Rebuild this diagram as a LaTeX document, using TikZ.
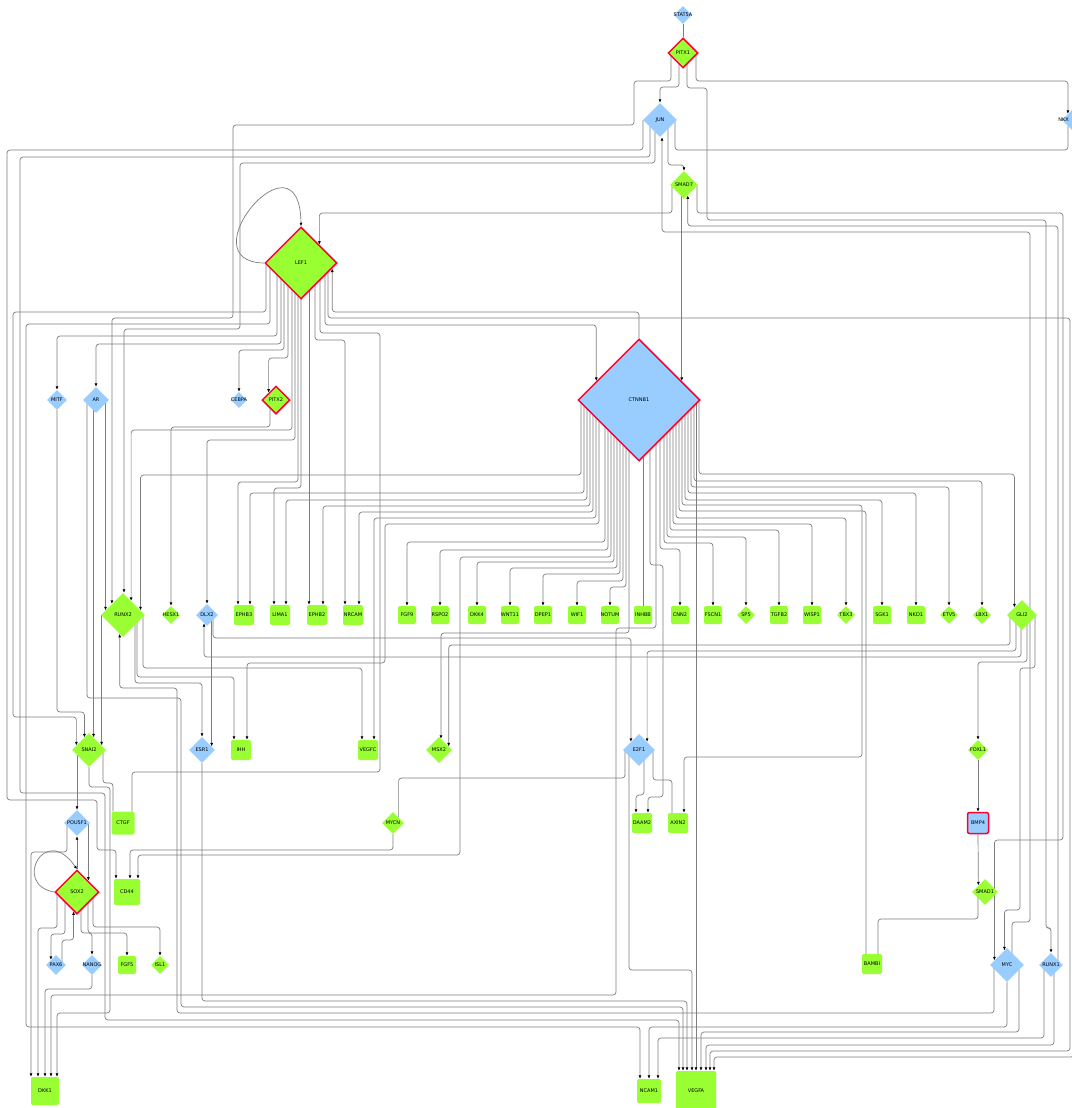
\documentclass[tikz,border=0pt]{standalone}
\usepackage{fontspec}
\newfontfamily\labfont{DejaVu Sans}
\usetikzlibrary{arrows.meta,positioning,calc,shapes.geometric}
\definecolor{gfill}{RGB}{153,255,51}
\definecolor{bfill}{RGB}{153,204,255}
\definecolor{hub}{RGB}{255,0,51}
\definecolor{wire}{RGB}{125,125,125}
\pgfdeclarelayer{bg}
\pgfsetlayers{bg,main}

\begin{document}
\begin{tikzpicture}[x=1pt,y=-1pt,
    lab/.style={font=\labfont\fontsize{5}{5}\selectfont,inner sep=0pt},
    gd/.style={diamond,fill=gfill,inner sep=0pt,minimum size=#1},
    bd/.style={diamond,fill=bfill,inner sep=0pt,minimum size=#1},
    gb/.style={rectangle,rounded corners=2pt,fill=gfill,inner sep=0pt,minimum size=#1},
    hubline/.style={draw=hub,line width=1.5pt},
    arr/.style={draw=wire,line width=0.7pt,rounded corners=3pt,-{Latex[length=3.5pt,width=3pt,color=black]}},
    ln/.style={draw=wire,line width=0.7pt,rounded corners=3pt}]
\useasboundingbox (0,0) rectangle (1071,1108);

% hubs and upper nodes
\node[bd=18,label={[lab]center:STAT5A}] (STAT5A) at (683,15) {};
\node[gd=30,hubline,label={[lab]center:PITX1}] (PITX1) at (683,53) {};
\node[bd=34,label={[lab]center:JUN}] (JUN) at (660,120) {};
\node[bd=24] (NKX) at (1074,120) {};
\node[lab,anchor=east] (NKXlab) at (1069,120) {NKX};
\node[gd=28,label={[lab]center:SMAD7}] (SMAD7) at (684,185) {};
\node[gd=72,hubline,label={[lab]center:LEF1}] (LEF1) at (301,263) {};
\node[bd=122,hubline,label={[lab]center:CTNNB1}] (CTNNB1) at (639,400) {};
\node[bd=20,label={[lab]center:MITF}] (MITF) at (57,400) {};
\node[bd=26,label={[lab]center:AR}] (AR) at (96,400) {};
\node[bd=16,label={[lab]center:CEBPA}] (CEBPA) at (239,400) {};
\node[gd=28,hubline,label={[lab]center:PITX2}] (PITX2) at (276,400) {};

% target row
\node[gd=44,label={[lab]center:RUNX2}] (RUNX2) at (123,615) {};
\node[bd=22,label={[lab]center:DLX2}] (DLX2) at (207,615) {};
\node[gd=30,label={[lab]center:GLI2}] (GLI2) at (1022,615) {};
\foreach \g/\x in {EPHB3/244,LIMA1/280,EPHB2/317,NRCAM/353}
    \node[gb=20,label={[lab]center:\g}] (\g) at (\x,615) {};
\foreach \g/\x in {FGF9/407,RSPO2/440,DKK4/477,WNT11/510,DPEP1/543,WIF1/577,NOTUM/610,INHBB/643,CNN2/680,FSCN1/713,TGFB2/779,WISP1/812,SGK1/882,NKD1/916}
    \node[gb=18,label={[lab]center:\g}] (\g) at (\x,615) {};
\foreach \g/\x in {HESX1/171,SP5/746,TBX3/846,ETV5/949,LBX1/982}
    \node[gd=18,label={[lab]center:\g}] (\g) at (\x,615) {};

% lower nodes
\node[gd=34,label={[lab]center:SNAI2}] (SNAI2) at (89,750) {};
\node[bd=26,label={[lab]center:ESR1}] (ESR1) at (202,750) {};
\node[gb=20,label={[lab]center:IHH}] (IHH) at (241,750) {};
\node[gb=20,label={[lab]center:VEGFC}] (VEGFC) at (368,750) {};
\node[gd=26,label={[lab]center:MSX2}] (MSX2) at (439,750) {};
\node[bd=32,label={[lab]center:E2F1}] (E2F1) at (639,750) {};
\node[gd=20,label={[lab]center:FOXL1}] (FOXL1) at (978,750) {};
\node[bd=26,label={[lab]center:POU5F1}] (POU5F1) at (77,823) {};
\node[gb=23,label={[lab]center:CTGF}] (CTGF) at (123,823) {};
\node[gd=22,label={[lab]center:MYCN}] (MYCN) at (393,823) {};
\node[gb=20,label={[lab]center:DAAM2}] (DAAM2) at (642,823) {};
\node[gb=20,label={[lab]center:AXIN2}] (AXIN2) at (678,823) {};
\node[rectangle,rounded corners=2pt,fill=bfill,hubline,inner sep=0pt,minimum size=21,label={[lab]center:BMP4}] (BMP4) at (978,823) {};
\node[gd=44,hubline,label={[lab]center:SOX2}] (SOX2) at (77,892) {};
\node[gb=26,label={[lab]center:CD44}] (CD44) at (127,892) {};
\node[gd=26,label={[lab]center:SMAD1}] (SMAD1) at (985,892) {};
\node[bd=20,label={[lab]center:PAX6}] (PAX6) at (56,965) {};
\node[bd=20,label={[lab]center:NANOG}] (NANOG) at (92,965) {};
\node[gb=18,label={[lab]center:FGF5}] (FGF5) at (127,965) {};
\node[gd=18,label={[lab]center:ISL1}] (ISL1) at (160,965) {};
\node[gb=20,label={[lab]center:BAMBI}] (BAMBI) at (872,964) {};
\node[bd=34,label={[lab]center:MYC}] (MYC) at (1007,965) {};
\node[bd=24,label={[lab]center:RUNX1}] (RUNX1) at (1051,965) {};
\node[gb=28,label={[lab]center:DKK1}] (DKK1) at (45,1091) {};
\node[gb=24,label={[lab]center:NCAM1}] (NCAM1) at (649,1091) {};
\node[gb=40,label={[lab]center:VEGFA}] (VEGFA) at (696,1091) {};

\begin{pgfonlayer}{bg}
\fill[white] (0,0) rectangle (1071,1108);

% PITX1 and JUN
\draw[ln] (STAT5A) -- (PITX1);
\draw[arr] ([xshift=-4]PITX1.center) |- (JUN.north |- 0,87) -- (JUN.north);
\draw[arr] ([xshift=-12]PITX1.center) |- (634,81) |- (233,125) |- (RUNX2.north west |- 0,318) -- (RUNX2.north west);
\draw[arr] ([xshift=4]PITX1.center) |- (707,88) |- (1046,220) |- (RUNX1.north |- 0,928) -- (RUNX1.north);
\draw[arr] ([xshift=13]PITX1.center) |- (NKX.north west |- 0,81) -- (NKX.north west);
\draw[arr] ([xshift=8]JUN.center) |- (SMAD7.north |- 0,165) -- (SMAD7.north);
\draw[ln] ([xshift=15]JUN.center) |- (NKX.south west |- 0,150) -- (NKX.south west);
\draw[arr] ([xshift=-17]JUN.center) |- (7,150) |- (97,800) |- ([xshift=-11]CD44.north |- 0,850) -- ([xshift=-11]CD44.north);
\draw[arr] ([xshift=-10]JUN.center) |- (20,157) |- (105,793) |- ([xshift=-17]VEGFA.north |- 0,1020) -- ([xshift=-17]VEGFA.north);
\draw[arr] ([xshift=-5]JUN.center) |- (240,163) |- ([xshift=1]RUNX2.north |- 0,329) -- ([xshift=1]RUNX2.north);
\draw[arr] ([xshift=5]MYC.center) |- (1030,922) |- ([xshift=2]JUN.south |- 0,232) -- ([xshift=2]JUN.south);

% SMAD7
\draw[arr] ([xshift=-12]SMAD7.center) |- (LEF1.north east |- 0,213) -- (LEF1.north east);
\draw[arr] (SMAD7.center -| CTNNB1.24) -- (CTNNB1.24);
\draw[arr] ([xshift=13]SMAD7.center) |- (1063,213) |- (MYC.160 |- 0,840) -- (MYC.160);
\draw[arr] ([xshift=7]RUNX1.center) |- (SMAD7.-70 |- 0,226) -- (SMAD7.-70);

% LEF1
\draw[arr] (LEF1.west) .. controls (185,262) and (300,125) .. (LEF1.north);
\draw[arr] ([xshift=-35]LEF1.center) |- (13,312) |- (SNAI2.160 |- 0,717) -- (SNAI2.160);
\draw[arr] ([xshift=-31]LEF1.center) |- (26,324) |- ([xshift=-9]NCAM1.north |- 0,1027) -- ([xshift=-9]NCAM1.north);
\foreach \dx/\lv/\t in {-24/336/MITF.north,-20/344/AR.north,-17/350/CEBPA.north,-13/358/PITX2.north west,-9/430/RUNX2.60,-6/440/DLX2.north}
    \draw[arr] ([xshift=\dx]LEF1.center) |- (\t |- 0,\lv) -- (\t);
\draw[arr] ([xshift=-3]LEF1.center) |- ([xshift=-6]EPHB3.north |- 0,482) -- ([xshift=-6]EPHB3.north);
\draw[arr] (LEF1.center) |- ([xshift=-6]LIMA1.north |- 0,488) -- ([xshift=-6]LIMA1.north);
\draw[arr] ([xshift=-8]EPHB2.north |- LEF1.center) -- ([xshift=-8]EPHB2.north);
\draw[arr] ([xshift=14]LEF1.center) |- ([xshift=-8]NRCAM.north |- 0,340) -- ([xshift=-8]NRCAM.north);
\draw[ln] ([xshift=19]LEF1.center) |- (380,333) |- ([xshift=9]CTGF.north |- 0,772) -- ([xshift=9]CTGF.north);
\draw[arr] ([xshift=24]LEF1.center) |- (CTNNB1.156 |- 0,325) -- (CTNNB1.156);
\draw[arr] ([xshift=27]LEF1.center) |- (1070,318) |- ([xshift=14]VEGFA.north |- 0,1051) -- ([xshift=14]VEGFA.north);
\draw[arr] (CTNNB1.north) |- (LEF1.-10 |- 0,312) -- (LEF1.-10);
\draw[arr] ([xshift=-6]PITX2.center) |- (HESX1.north |- 0,427) -- (HESX1.north);

% CTNNB1 fan
\foreach \dx/\lv/\t/\o in {-58/475/RUNX2.15/0,-55/493/EPHB3.north/6,-52/500/LIMA1.north/6,-49/506/EPHB2.north/6,-46/512/NRCAM.north/6,-43/518/VEGFC.north/6,-34/542/FGF9.north/0,-31/550/RSPO2.north/0,-25/562/DKK4.north/0,-22/568/WNT11.north/0,-19/574/DPEP1.north/0,-16/581/WIF1.north/0,-13/587/NOTUM.north/0,-10/633/MSX2.80/0,21/549/CNN2.north/0,25/543/FSCN1.north/0,28/537/SP5.north/0,31/530/TGFB2.north/0,34/524/WISP1.north/0,37/518/TBX3.north/0,46/500/SGK1.north/0,49/493/NKD1.north/0,52/487/ETV5.north/0,55/481/LBX1.north/0,60/474/GLI2.north west/0}
    \draw[arr] ([xshift=\dx]CTNNB1.center) |- ([xshift=\o]\t |- 0,\lv) -- ([xshift=\o]\t);
\draw[arr] ([xshift=-40]CTNNB1.center) |- (385,524) |- ([xshift=6]IHH.north |- 0,663) -- ([xshift=6]IHH.north);
\draw[arr] ([xshift=-28]CTNNB1.center) |- (460,557) |- ([xshift=11]CD44.north |- 0,855) -- ([xshift=11]CD44.north);
\draw[arr] ([xshift=17]CTNNB1.center) |- (616,628) |- ([xshift=6]DKK1.north |- 0,995) -- ([xshift=6]DKK1.north);
\draw[ln] (INHBB.north) -- (INHBB.north |- CTNNB1.center);
\draw[arr] ([xshift=11]CTNNB1.center) |- (663,565) |- ([xshift=6]DAAM2.north |- 0,797) -- ([xshift=6]DAAM2.north);
\draw[ln] ([xshift=40]CTNNB1.center) |- ([xshift=-6]BAMBI.north |- 0,511) -- ([xshift=-6]BAMBI.north);
\draw[arr] ([xshift=43]CTNNB1.center) |- (862,505) |- ([xshift=6]AXIN2.north |- 0,757) -- ([xshift=6]AXIN2.north);
\draw[arr] ([xshift=57]CTNNB1.center) -- (VEGFA.north);

% GLI2 and DLX2
\draw[arr] ([xshift=-12]GLI2.center) |- (MSX2.20 |- 0,645) -- (MSX2.20);
\draw[arr] ([xshift=-6]GLI2.center) |- (E2F1.north east |- 0,651) -- (E2F1.north east);
\draw[arr] ([xshift=-1]GLI2.center) |- (DLX2.-110 |- 0,657) -- (DLX2.-110);
\draw[arr] ([xshift=5]GLI2.center) |- (FOXL1.north |- 0,662) -- (FOXL1.north);
\draw[arr] ([xshift=13]GLI2.center) |- (1020,668) |- (MYC.100 |- 0,910) -- (MYC.100);
\draw[arr] ([xshift=6]DLX2.center) |- (E2F1.north west |- 0,638) -- (E2F1.north west);
\draw[arr] (DLX2.center -| ESR1.20) -- (ESR1.20);

% RUNX2, AR, MITF
\draw[arr] (RUNX2.center -| SNAI2.20) -- (SNAI2.20);
\draw[arr] ([xshift=12]RUNX2.center) |- (ESR1.north |- 0,683) -- (ESR1.north);
\draw[arr] ([xshift=14]RUNX2.center) |- ([xshift=-7]IHH.north |- 0,677) -- ([xshift=-7]IHH.north);
\draw[arr] ([xshift=20]RUNX2.center) |- ([xshift=-6]VEGFC.north |- 0,668) -- ([xshift=-6]VEGFC.north);
\draw[arr] ([xshift=-13]MYC.center) |- (177,1013) |- (RUNX2.-100 |- 0,688) -- (RUNX2.-100);
\draw[arr] (AR.center -| RUNX2.165) -- (RUNX2.165);
\draw[arr] (AR.center -| SNAI2.70) -- (SNAI2.70);
\draw[arr] ([xshift=-9]AR.center) |- (181,698) |- ([xshift=-13]VEGFA.north |- 0,1007) -- ([xshift=-13]VEGFA.north);
\draw[arr] (MITF.south) |- (SNAI2.110 |- 0,712) -- (SNAI2.110);

% SNAI2, POU5F1, SOX2
\draw[arr] (SNAI2.center -| POU5F1.north) -- (POU5F1.north);
\draw[ln] ([xshift=14]SNAI2.center) |- ([xshift=-10]CTGF.north |- 0,783) -- ([xshift=-10]CTGF.north);
\draw[arr] (SNAI2.south) |- (110,787) |- ([xshift=12]DKK1.north |- 0,1013) -- ([xshift=12]DKK1.north);
\draw[arr] (SOX2.north) -- (POU5F1.south);
\draw[arr] (SOX2.west) .. controls (12,885) and (45,822) .. (SOX2.north);
\draw[arr] (POU5F1.center -| SOX2.north east) -- (SOX2.north east);
\draw[arr] ([xshift=-10]POU5F1.center) |- ([xshift=-14]DKK1.north |- 0,852) -- ([xshift=-14]DKK1.north);
\draw[arr] ([xshift=-20]SOX2.center) |- ([xshift=-7]DKK1.north |- 0,928) -- ([xshift=-7]DKK1.north);
\draw[arr] ([xshift=-12]SOX2.center) |- (PAX6.north west |- 0,934) -- (PAX6.north west);
\draw[arr] ([xshift=6]PAX6.center) |- (SOX2.-100 |- 0,940) -- (SOX2.-100);
\draw[arr] ([xshift=4]SOX2.center) |- (NANOG.north |- 0,933) -- (NANOG.north);
\draw[arr] ([xshift=11]SOX2.center) |- (FGF5.north |- 0,933) -- (FGF5.north);
\draw[arr] ([xshift=16]SOX2.center) |- (ISL1.north |- 0,927) -- (ISL1.north);
\draw[arr] (NANOG.south) |- (DKK1.north |- 0,989) -- (DKK1.north);

% MYCN, E2F1, ESR1
\draw[arr] (MYCN.south) |- ([xshift=3]CD44.north |- 0,850) -- ([xshift=3]CD44.north);
\draw[ln] ([xshift=-14]E2F1.center) |- (MYCN.north east |- 0,778) -- (MYCN.north east);
\draw[arr] ([xshift=5]E2F1.center) |- ([xshift=-6]DAAM2.north |- 0,795) -- ([xshift=-6]DAAM2.north);
\draw[ln] ([xshift=14]E2F1.center) |- ([xshift=-6]AXIN2.north |- 0,780) -- ([xshift=-6]AXIN2.north);
\draw[arr] ([xshift=-10]E2F1.center) |- ([xshift=-4]VEGFA.north |- 0,970) -- ([xshift=-4]VEGFA.north);
\draw[arr] (ESR1.south) |- ([xshift=-9]VEGFA.north |- 0,1001) -- ([xshift=-9]VEGFA.north);

% right side
\draw[arr] (FOXL1) -- (BMP4);
\draw[arr] (BMP4.south) -- (SMAD1.north west);
\draw[ln] ([xshift=-7]SMAD1.center) |- ([xshift=6]BAMBI.north |- 0,919) -- ([xshift=6]BAMBI.north);
\draw[arr] (MYC.south) |- (NCAM1.north |- 0,1027) -- (NCAM1.north);
\draw[arr] ([xshift=12]MYC.center) |- ([xshift=5]VEGFA.north |- 0,1032) -- ([xshift=5]VEGFA.north);
\draw[arr] ([xshift=-7]RUNX1.center) |- ([xshift=9]NCAM1.north |- 0,1038) -- ([xshift=9]NCAM1.north);
\draw[arr] ([xshift=3]RUNX1.center) |- ([xshift=10]VEGFA.north |- 0,1045) -- ([xshift=10]VEGFA.north);
\draw[arr] (NKX.south) |- ([xshift=18]VEGFA.north |- 0,1057) -- ([xshift=18]VEGFA.north);
\end{pgfonlayer}
\end{tikzpicture}
\end{document}
